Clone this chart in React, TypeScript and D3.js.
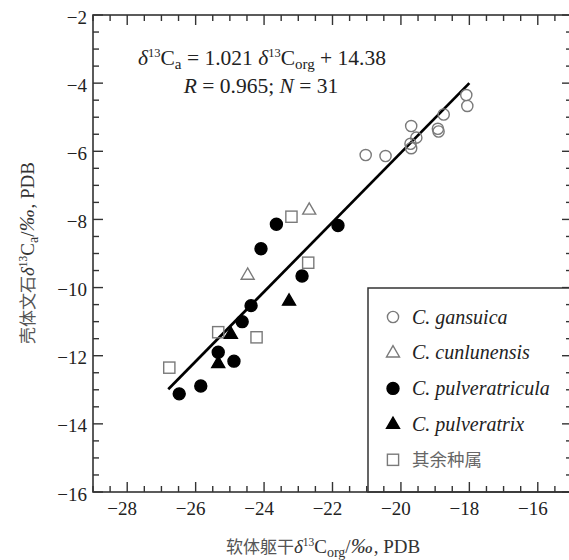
import React from "react";
import * as d3 from "d3";

// carbon isotope pairs [δ13C_org, δ13C_a]
const gansuica = [
  [-21.03, -6.11], [-20.45, -6.14], [-19.7, -5.26], [-19.55, -5.6],
  [-19.72, -5.78], [-19.7, -5.91], [-18.75, -4.92], [-18.92, -5.34],
  [-18.9, -5.42], [-18.09, -4.35], [-18.06, -4.67],
];
const cunlunensis = [[-22.68, -7.72], [-24.48, -9.63]];
const pulveratricula = [
  [-23.64, -8.14], [-21.84, -8.18], [-24.09, -8.86], [-22.89, -9.66],
  [-24.38, -10.53], [-24.64, -11.0], [-25.34, -11.9], [-24.88, -12.16],
  [-25.85, -12.89], [-26.48, -13.12],
];
const pulveratrix = [[-23.27, -10.39], [-24.97, -11.36], [-25.34, -12.22]];
const others = [
  [-23.2, -7.92], [-22.71, -9.27], [-25.34, -11.31], [-24.22, -11.46], [-26.77, -12.35],
];

const xMajor = [-28, -26, -24, -22, -20, -18, -16];
const yMajor = [-16, -14, -12, -10, -8, -6, -4, -2];
const fitSlope = 1.021;
const fitIntercept = 14.38;
const fitRange = [-26.8, -18.0];

const legendNames = ["C. gansuica", "C. cunlunensis", "C. pulveratricula", "C. pulveratrix", "其余种属"];
const legendShapes = ["circle", "triangle", "circle", "triangle", "square"];
const legendFilled = [false, false, true, true, false];

const serif = "'Liberation Serif', 'Times New Roman', serif";
const cjk = "'Noto Sans CJK SC', sans-serif";
const gray = "#7a7a7a";

function Marker({ shape, filled, cx, cy }) {
  const fill = filled ? "#000" : "none";
  const stroke = filled ? "#000" : gray;
  const sw = 1.4;
  if (shape === "circle") {
    return <circle cx={cx} cy={cy} r={filled ? 6 : 5.6} fill={fill} stroke={stroke} strokeWidth={sw} />;
  }
  if (shape === "square") {
    return <rect x={cx - 5.6} y={cy - 5.6} width={11.2} height={11.2} fill={fill} stroke={stroke} strokeWidth={sw} />;
  }
  const s = 13;
  const h = s * 0.866;
  const pts = [[cx, cy - h * 0.62], [cx - s / 2, cy + h * 0.38], [cx + s / 2, cy + h * 0.38]];
  return <polygon points={pts.map((p) => p.join(",")).join(" ")} fill={fill} stroke={stroke} strokeWidth={sw} strokeLinejoin="miter" />;
}

// δ13C with sub label, used by both axis titles
function Delta({ sub }) {
  return (
    <>
      <tspan fontStyle="italic">δ</tspan>
      <tspan fontSize={11.5} dy={-7}>13</tspan>
      <tspan dy={7}>C</tspan>
      <tspan fontSize={14} dy={4}>{sub}</tspan>
      <tspan dy={-4}>/</tspan>
      <tspan fontStyle="italic" fontSize={22} letterSpacing={1}>‰</tspan>
      <tspan>, PDB</tspan>
    </>
  );
}

export default function App() {
  React.useEffect(() => {
    document.body.style.margin = "0";
  }, []);

  const width = 569;
  const height = 560;
  const left = 93, right = 572, top = 15, bottom = 492;

  const x = d3.scaleLinear().domain([-29, -15]).range([left, right]);
  const y = d3.scaleLinear().domain([-16, -2]).range([bottom, top]);
  const fmt = d3.format("d");

  const xMinor = d3.range(-29, -15.01, 0.5).filter((v) => v % 2 !== 0);
  const yMinor = d3.range(-16, -1.99, 0.5).filter((v) => v % 2 !== 0);
  const major = 10, minor = 6;
  const frame = "#333";

  const line = d3.line().x((d) => x(d[0])).y((d) => y(d[1]));
  const fit = fitRange.map((v) => [v, fitSlope * v + fitIntercept]);

  const series = [
    { data: gansuica, shape: "circle", filled: false },
    { data: cunlunensis, shape: "triangle", filled: false },
    { data: others, shape: "square", filled: false },
    { data: pulveratricula, shape: "circle", filled: true },
    { data: pulveratrix, shape: "triangle", filled: true },
  ];

  const legX = 368, legY = 288;
  const rowY = (i) => 317 + i * 35.7;

  return (
    <svg width={width} height={height} style={{ display: "block" }} fontFamily={serif}>
      <rect width={width} height={height} fill="#fff" />

      {/* ticks on all four sides, pointing inward */}
      <g stroke={frame} strokeWidth={1.4}>
        {xMajor.map((v) => (
          <g key={"xm" + v}>
            <line x1={x(v)} x2={x(v)} y1={bottom} y2={bottom - major} />
            <line x1={x(v)} x2={x(v)} y1={top} y2={top + major} />
          </g>
        ))}
        {xMinor.map((v) => (
          <g key={"xn" + v}>
            <line x1={x(v)} x2={x(v)} y1={bottom} y2={bottom - minor} />
            <line x1={x(v)} x2={x(v)} y1={top} y2={top + minor} />
          </g>
        ))}
        {yMajor.map((v) => (
          <g key={"ym" + v}>
            <line x1={left} x2={left + major} y1={y(v)} y2={y(v)} />
            <line x1={right} x2={right - major} y1={y(v)} y2={y(v)} />
          </g>
        ))}
        {yMinor.map((v) => (
          <g key={"yn" + v}>
            <line x1={left} x2={left + minor} y1={y(v)} y2={y(v)} />
            <line x1={right} x2={right - minor} y1={y(v)} y2={y(v)} />
          </g>
        ))}
      </g>

      {/* legend box */}
      <rect x={legX} y={legY} width={right - legX} height={bottom - legY} fill="#fff" stroke={frame} strokeWidth={1.5} />
      <g stroke={frame} strokeWidth={1.4}>
        {yMajor.filter((v) => y(v) > legY).map((v) => (
          <line key={"lm" + v} x1={right} x2={right - major} y1={y(v)} y2={y(v)} />
        ))}
        {yMinor.filter((v) => y(v) > legY).map((v) => (
          <line key={"ln" + v} x1={right} x2={right - minor} y1={y(v)} y2={y(v)} />
        ))}
        {xMajor.filter((v) => x(v) > legX).map((v) => (
          <line key={"lx" + v} x1={x(v)} x2={x(v)} y1={bottom} y2={bottom - major} />
        ))}
        {xMinor.filter((v) => x(v) > legX).map((v) => (
          <line key={"lxn" + v} x1={x(v)} x2={x(v)} y1={bottom} y2={bottom - minor} />
        ))}
      </g>
      {legendNames.map((name, i) => (
        <g key={name}>
          <Marker shape={legendShapes[i]} filled={legendFilled[i]} cx={393} cy={rowY(i)} />
          {i < 4 ? (
            <text x={412} y={rowY(i) + 6.5} fontSize={20} fontStyle="italic" fill="#222">{name}</text>
          ) : (
            <text x={412} y={rowY(i) + 6.5} fontSize={17.5} fontFamily={cjk} fill="#666">{name}</text>
          )}
        </g>
      ))}

      {/* frame */}
      <rect x={left} y={top} width={right - left} height={bottom - top} fill="none" stroke={frame} strokeWidth={1.6} />

      {/* regression line */}
      <path d={line(fit)} fill="none" stroke="#000" strokeWidth={2.7} />

      {/* points */}
      {series.map((s, si) =>
        s.data.map((d, i) => (
          <Marker key={si + "-" + i} shape={s.shape} filled={s.filled} cx={x(d[0])} cy={y(d[1])} />
        ))
      )}

      {/* tick labels */}
      <g fontSize={19} fill="#222">
        {xMajor.map((v) => (
          <text key={"xl" + v} x={x(v) - 5} y={515} textAnchor="middle">{fmt(v)}</text>
        ))}
        {yMajor.map((v) => (
          <text key={"yl" + v} x={87} y={y(v) + 8.5} textAnchor="end">{fmt(v)}</text>
        ))}
      </g>

      {/* equation */}
      <g fontSize={21.5} fill="#222" textAnchor="middle">
        <text x={262} y={65}>
          <tspan fontStyle="italic">δ</tspan>
          <tspan fontSize={12.5} dy={-8.5}>13</tspan>
          <tspan dy={8.5}>C</tspan>
          <tspan fontSize={15} dy={4}>a</tspan>
          <tspan dy={-4}> = 1.021 </tspan>
          <tspan fontStyle="italic">δ</tspan>
          <tspan fontSize={12.5} dy={-8.5}>13</tspan>
          <tspan dy={8.5}>C</tspan>
          <tspan fontSize={15} dy={4}>org</tspan>
          <tspan dy={-4}> + 14.38</tspan>
        </text>
        <text x={261} y={93}>
          <tspan fontStyle="italic">R</tspan>
          <tspan> = 0.965; </tspan>
          <tspan fontStyle="italic">N</tspan>
          <tspan> = 31</tspan>
        </text>
      </g>

      {/* axis titles */}
      <text x={323} y={553} textAnchor="middle" fontSize={19} fill="#333">
        <tspan fontFamily={cjk} fontSize={17} fill="#555">软体躯干</tspan>
        <Delta sub="org" />
      </text>
      <text transform="translate(34,253) rotate(-90)" textAnchor="middle" fontSize={19} fill="#333">
        <tspan fontFamily={cjk} fontSize={17} fill="#555">壳体文石</tspan>
        <Delta sub="a" />
      </text>
    </svg>
  );
}
